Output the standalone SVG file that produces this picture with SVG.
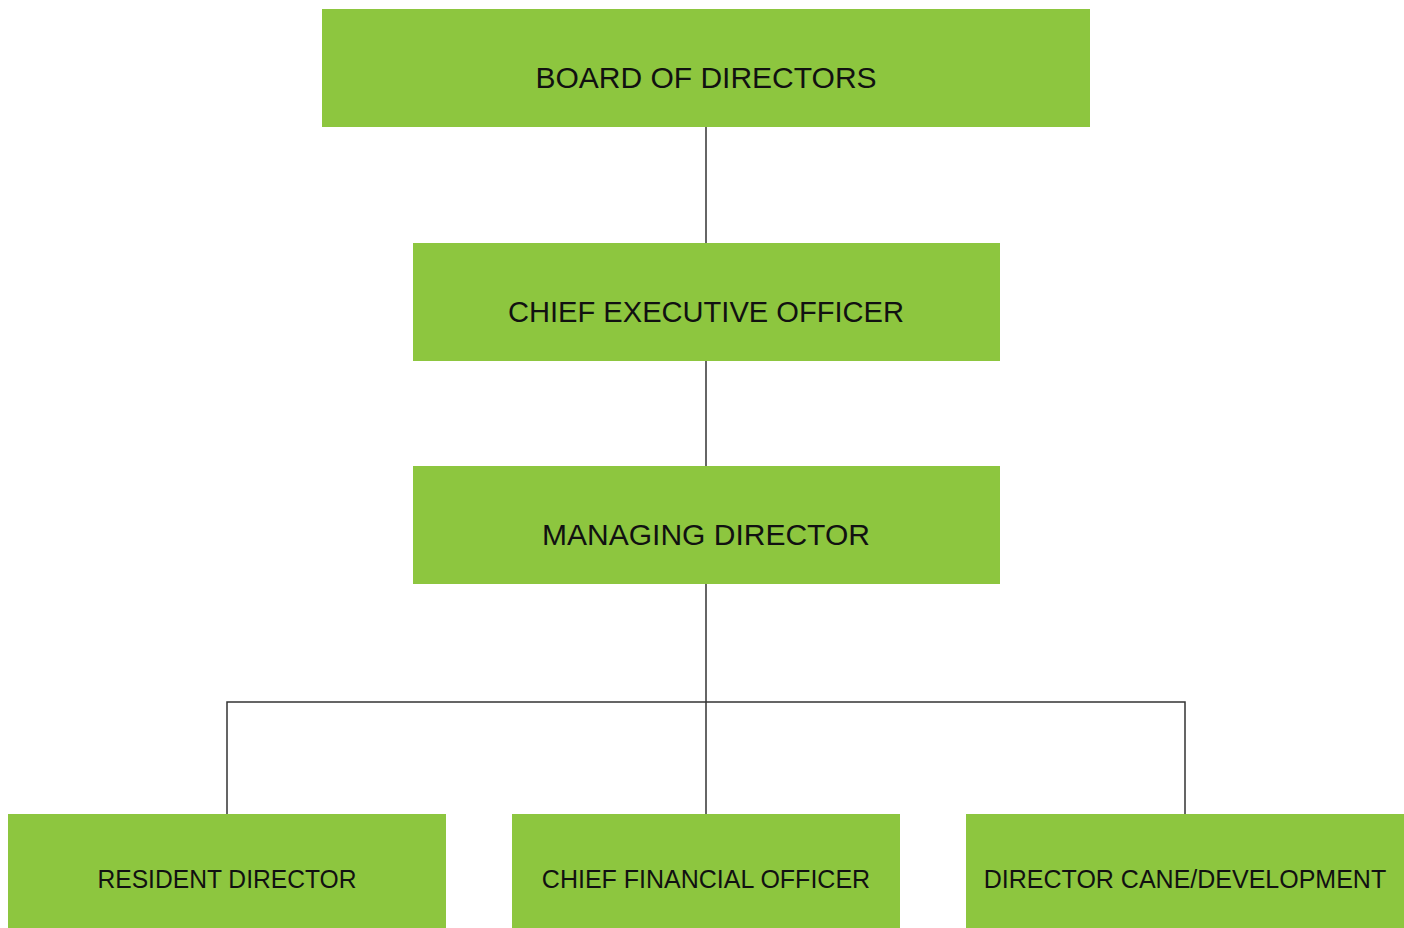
<svg xmlns="http://www.w3.org/2000/svg" width="1404" height="928" viewBox="0 0 1404 928">
<style>
.box{fill:#8DC63F}
.t{font-family:"Liberation Sans",Arial,sans-serif;fill:#111;text-anchor:middle}
.big{font-size:30px}
.small{font-size:25px}
.conn{stroke:#333;stroke-width:1.5;fill:none}
</style>
<rect width="1404" height="928" fill="#fff"/>
<g id="connectors">
<line class="conn" x1="706" y1="127" x2="706" y2="243"/>
<line class="conn" x1="706" y1="361" x2="706" y2="466"/>
<line class="conn" x1="706" y1="584" x2="706" y2="814"/>
<polyline class="conn" points="227,814 227,702 1185,702 1185,814"/>
</g>
<g id="board">
<rect class="box" x="322" y="9" width="768" height="118"/>
<text class="t big" x="706" y="88">BOARD OF DIRECTORS</text>
</g>
<g id="ceo">
<rect class="box" x="413" y="243" width="587" height="118"/>
<text class="t big" x="706" y="322" textLength="396" lengthAdjust="spacingAndGlyphs">CHIEF EXECUTIVE OFFICER</text>
</g>
<g id="md">
<rect class="box" x="413" y="466" width="587" height="118"/>
<text class="t big" x="706" y="545">MANAGING DIRECTOR</text>
</g>
<g id="resident">
<rect class="box" x="8" y="814" width="438" height="114"/>
<text class="t small" x="227" y="888" textLength="259" lengthAdjust="spacingAndGlyphs">RESIDENT DIRECTOR</text>
</g>
<g id="cfo">
<rect class="box" x="512" y="814" width="388" height="114"/>
<text class="t small" x="706" y="888">CHIEF FINANCIAL OFFICER</text>
</g>
<g id="cane">
<rect class="box" x="966" y="814" width="438" height="114"/>
<text class="t small" x="1185" y="888">DIRECTOR CANE/DEVELOPMENT</text>
</g>
</svg>
